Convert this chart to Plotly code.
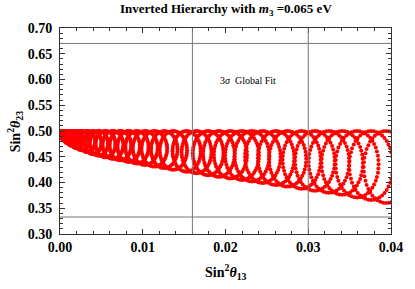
import plotly.graph_objects as go

# Top point of each closed loop on the sin^2(theta13) axis
arc_x0 = [0.0001, 0.0003, 0.0006, 0.0010, 0.0015, 0.0020, 0.0026, 0.0033, 0.0040,
          0.0047, 0.0055, 0.0064, 0.0073, 0.0083, 0.0093, 0.0103, 0.0114, 0.0126,
          0.0137, 0.0153, 0.0165, 0.0179, 0.0192, 0.0206, 0.0220, 0.0232, 0.0245,
          0.0261, 0.0275, 0.0292, 0.0308, 0.0325, 0.0341, 0.0359, 0.0376, 0.0394]
# Depth of each loop below sin^2(theta23)=0.5
arc_depth = [0.008, 0.013, 0.018, 0.024, 0.029, 0.033, 0.037, 0.041, 0.045,
             0.048, 0.051, 0.054, 0.057, 0.060, 0.063, 0.066, 0.069, 0.072,
             0.075, 0.079, 0.082, 0.086, 0.089, 0.092, 0.095, 0.098, 0.101,
             0.105, 0.108, 0.112, 0.116, 0.120, 0.124, 0.129, 0.134, 0.140]
# Half-width of each loop
arc_width = [0.0002, 0.0004, 0.0005, 0.0006, 0.0007, 0.0008, 0.0009, 0.00095, 0.0010,
             0.0011, 0.0012, 0.00125, 0.0013, 0.00135, 0.0014, 0.0015, 0.00155, 0.0016,
             0.00165, 0.0017, 0.0018, 0.00185, 0.0019, 0.0020, 0.00205, 0.0021, 0.00215,
             0.0022, 0.00225, 0.0023, 0.0024, 0.00245, 0.0025, 0.0026, 0.00265, 0.0027]
# Shape of one loop, read point by point (fractions of half-width / depth)
arc_shape_dx = [0, .13, .26, .38, .50, .61, .71, .79, .87, .92, .97, .99, 1,
                .99, .97, .92, .87, .79, .71, .61, .50, .38, .26, .13, 0,
                -.13, -.26, -.38, -.50, -.61, -.71, -.79, -.87, -.92, -.97, -.99, -1,
                -.99, -.97, -.92, -.87, -.79, -.71, -.61, -.50, -.38, -.26, -.13]
arc_shape_dy = [0, .004, .017, .038, .067, .103, .146, .196, .25, .309, .371, .435, .5,
                .565, .629, .691, .75, .804, .854, .897, .933, .962, .983, .996, 1,
                .996, .983, .962, .933, .897, .854, .804, .75, .691, .629, .565, .5,
                .435, .371, .309, .25, .196, .146, .103, .067, .038, .017, .004]
top_level = 0.5

fit_s13 = [0.016, 0.030]
fit_s23 = [0.333, 0.67]

xs, ys = [], []
for x0, d, w in zip(arc_x0, arc_depth, arc_width):
    for fx, fy in zip(arc_shape_dx, arc_shape_dy):
        xs.append(x0 + w * fx)
        ys.append(top_level - d * fy)

fig = go.Figure()
fig.add_trace(go.Scatter(x=xs, y=ys, mode="markers",
                         marker=dict(color="#ff0000", size=4, line=dict(width=0)),
                         hoverinfo="skip", showlegend=False))

for v in fit_s13:
    fig.add_shape(type="line", x0=v, x1=v, y0=0.30, y1=0.70, xref="x", yref="y",
                  line=dict(color="#777777", width=1), layer="above")
for v in fit_s23:
    fig.add_shape(type="line", x0=0, x1=0.04, y0=v, y1=v, xref="x", yref="y",
                  line=dict(color="#777777", width=1), layer="above")

serif = "Liberation Serif, Times New Roman, serif"
axis_common = dict(showline=True, linecolor="#333333", linewidth=1, mirror="allticks",
                   ticks="inside", ticklen=5, tickcolor="#333333", showgrid=False,
                   zeroline=False,
                   tickfont=dict(family=serif, size=14, color="black", weight="bold"),
                   tickformat=".2f")
fig.update_xaxes(range=[0, 0.04], dtick=0.01, tick0=0,
                 minor=dict(dtick=0.002, ticks="inside", ticklen=3, tickcolor="#333333"),
                 **axis_common)
fig.update_yaxes(range=[0.30, 0.70], dtick=0.05, tick0=0.30,
                 minor=dict(dtick=0.01, ticks="inside", ticklen=3, tickcolor="#333333"),
                 ticklabelstandoff=4, **axis_common)

fig.add_annotation(text="<b>Inverted Hierarchy with <i>m</i><sub>3</sub> =0.065 eV</b>",
                   xref="paper", yref="paper", x=0.5, y=1.09, xanchor="center", yanchor="middle",
                   showarrow=False, font=dict(family=serif, size=13, color="black"))
fig.add_annotation(text="<b>Sin<sup>2</sup><i>θ</i><sub>13</sub></b>",
                   xref="paper", yref="paper", x=0.5, y=-0.185, xanchor="center", yanchor="middle",
                   showarrow=False, font=dict(family=serif, size=14, color="black"))
fig.add_annotation(text="<b>Sin<sup>2</sup><i>θ</i><sub>23</sub></b>", textangle=-90,
                   xref="paper", yref="paper", x=-0.135, y=0.5, xanchor="center", yanchor="middle",
                   showarrow=False, font=dict(family=serif, size=14, color="black"))
fig.add_annotation(text="3<i>σ</i>  Global Fit", xref="x", yref="y", x=0.0227, y=0.598,
                   xanchor="center", yanchor="middle",
                   showarrow=False, font=dict(family=serif, size=10, color="black"))

fig.update_layout(width=415, height=289, margin=dict(l=60, r=15, t=28, b=55),
                  plot_bgcolor="white", paper_bgcolor="white")
fig.write_html("out.html", config={"displayModeBar": False})

with open("out.html", "r", encoding="utf-8") as f:
    html = f.read()
html = html.replace("<head>", "<head><style>html,body{margin:0;padding:0;overflow:hidden}</style>", 1)
with open("out.html", "w", encoding="utf-8") as f:
    f.write(html)
